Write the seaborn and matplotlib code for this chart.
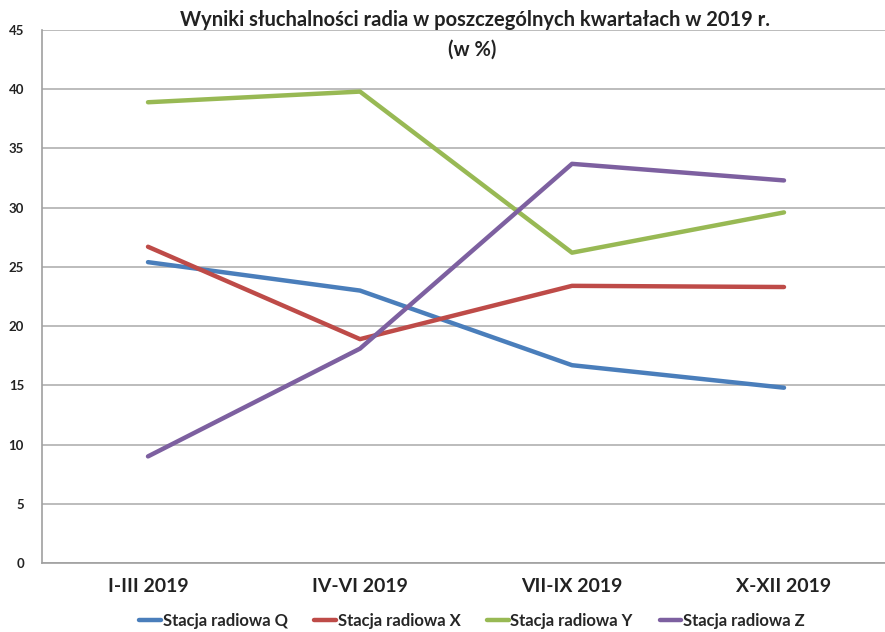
import matplotlib
matplotlib.use("Agg")
import matplotlib.pyplot as plt
import pandas as pd
import seaborn as sns

kwartaly = ["I-III 2019", "IV-VI 2019", "VII-IX 2019", "X-XII 2019"]
stacja_q = [25.4, 23.0, 16.7, 14.8]
stacja_x = [26.7, 18.9, 23.4, 23.3]
stacja_y = [38.9, 39.8, 26.2, 29.6]
stacja_z = [9.0, 18.1, 33.7, 32.3]
nazwy = ["Stacja radiowa Q", "Stacja radiowa X", "Stacja radiowa Y", "Stacja radiowa Z"]
kolory = ["#4a7ebb", "#be4b48", "#98b954", "#7d60a0"]

df = pd.DataFrame({
    "Kwartal": kwartaly * 4,
    "Wartosc": stacja_q + stacja_x + stacja_y + stacja_z,
    "Stacja": [n for n in nazwy for _ in kwartaly],
})

sns.set_style("white")
plt.rcParams["font.family"] = ["Lato", "DejaVu Sans"]

fig = plt.figure(figsize=(8.85, 6.32), dpi=100)
ax = fig.add_axes([42 / 885, (632 - 563) / 632, (890 - 42) / 885, (563 - 30) / 632])

sns.lineplot(data=df, x="Kwartal", y="Wartosc", hue="Stacja", palette=kolory,
             linewidth=3.2, sort=False, ax=ax, solid_capstyle="round", legend=True)

ax.set_xlim(-0.5, 3.5)
ax.set_ylim(0, 45)
ax.set_yticks(range(0, 46, 5))
ax.yaxis.grid(True, color="#b0b0b0", linewidth=1.2)
ax.set_axisbelow(True)
ax.set_xlabel("")
ax.set_ylabel("")

for s in ["top", "right"]:
    ax.spines[s].set_visible(False)
for s in ["left", "bottom"]:
    ax.spines[s].set_color("#a0a0a0")
    ax.spines[s].set_linewidth(1.2)

ax.set_xticks([0, 1, 2, 3])
ax.set_xticklabels(kwartaly, fontsize=14, fontweight="bold", color="#222222")
ax.tick_params(axis="x", length=0, pad=11)
ax.set_xticks([0.5, 1.5, 2.5], minor=True)
ax.tick_params(axis="x", which="minor", length=5, color="#a0a0a0", width=1.2)
ax.tick_params(axis="y", length=5, color="#a0a0a0", width=1.2, labelsize=9.5, pad=8)
for lbl in ax.get_yticklabels():
    lbl.set_fontweight("bold")
    lbl.set_color("#222222")

fig.text(475 / 885, 1 - 20 / 632, "Wyniki słuchalności radia w poszczególnych kwartałach w 2019 r.",
         ha="center", va="center", fontsize=14.5, fontweight="bold", color="#222222")
fig.text(472 / 885, 1 - 50 / 632, "(w %)", ha="center", va="center",
         fontsize=14.5, fontweight="bold", color="#222222")

handles, labels = ax.get_legend_handles_labels()
ax.legend(handles, labels, loc="center", bbox_to_anchor=(472 / 885, 1 - 621 / 632),
          bbox_transform=fig.transFigure, ncol=4, frameon=False,
          prop={"size": 12, "weight": "bold"}, handlelength=1.3, handletextpad=0.1,
          columnspacing=1.6)

fig.savefig("out.png", dpi=100)
